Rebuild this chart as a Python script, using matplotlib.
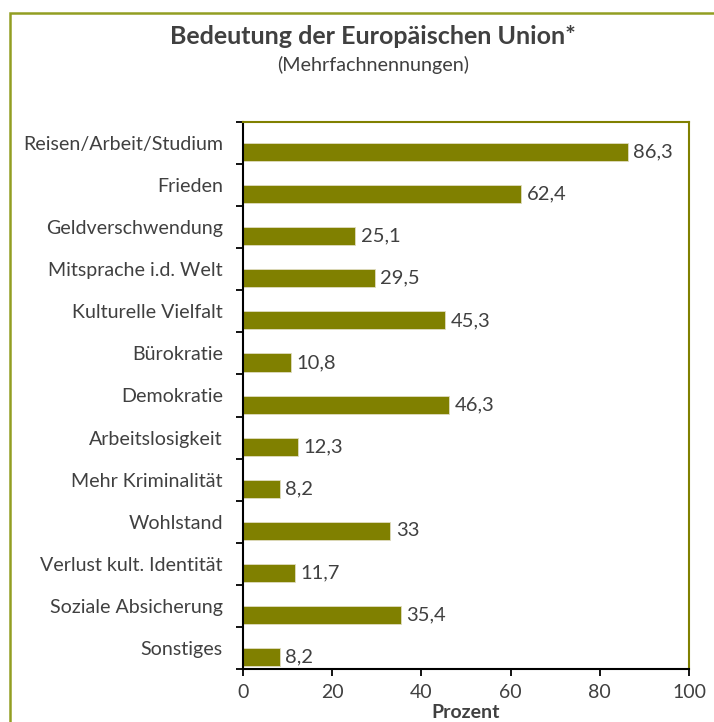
import matplotlib
matplotlib.use("Agg")
import matplotlib.pyplot as plt
from matplotlib.patches import Rectangle
import numpy as np

categories = ["Reisen/Arbeit/Studium", "Frieden", "Geldverschwendung",
              "Mitsprache i.d. Welt", "Kulturelle Vielfalt", "Bürokratie",
              "Demokratie", "Arbeitslosigkeit", "Mehr Kriminalität",
              "Wohlstand", "Verlust kult. Identität", "Soziale Absicherung",
              "Sonstiges"]
values = [86.3, 62.4, 25.1, 29.5, 45.3, 10.8, 46.3, 12.3, 8.2, 33, 11.7, 35.4, 8.2]
value_labels = ["86,3", "62,4", "25,1", "29,5", "45,3", "10,8", "46,3",
                "12,3", "8,2", "33", "11,7", "35,4", "8,2"]
x_ticks = [0, 20, 40, 60, 80, 100]

plt.rcParams['font.family'] = ['Lato', 'DejaVu Sans']
TXT = '#404040'
OLIVE = '#808000'

W, H = 714, 722
fig = plt.figure(figsize=(W / 100, H / 100), dpi=100)
fig.patch.set_facecolor('white')

# outer border
fig.patches.append(Rectangle((10 / W, -0.2), 1.5, 1 - 13.5 / H + 0.2,
                             transform=fig.transFigure, fill=False,
                             edgecolor='#929e22', linewidth=1.8, zorder=0))

ax = fig.add_axes([243 / W, 1 - 669 / H, (689 - 243) / W, (669 - 122) / H])
n = len(categories)
idx = np.arange(n)
bar_centers = idx + 0.715
ax.barh(bar_centers, values, height=0.43, color=OLIVE, edgecolor='#e0dcc0',
        linewidth=0.6, zorder=2)
for yc, v, lab in zip(bar_centers, values, value_labels):
    ax.annotate(lab, (v, yc), xytext=(4, 0), textcoords='offset points',
                va='center', ha='left', fontsize=14.5, color=TXT)

ax.set_ylim(n, 0)
ax.set_xlim(0, 100)
ax.set_yticks(np.arange(n + 1))
ax.set_yticklabels([])
ax.set_yticks(idx + 0.5, minor=True)
ax.set_yticklabels(categories, minor=True, fontsize=14.1, color=TXT)
ax.tick_params(axis='y', which='major', length=5, width=1.3, direction='out', color='black')
ax.tick_params(axis='y', which='minor', length=0, pad=14.5)
ax.set_xticks(x_ticks)
ax.set_xticklabels([str(t) for t in x_ticks], fontsize=14, color=TXT)
ax.tick_params(axis='x', length=5, width=1.3, direction='out', color='black', pad=6)

for s in ['left', 'bottom']:
    ax.spines[s].set_color('black')
    ax.spines[s].set_linewidth(1.5)
for s in ['top', 'right']:
    ax.spines[s].set_color(OLIVE)
    ax.spines[s].set_linewidth(1.5)

fig.text(373 / W, 1 - 36 / H, "Bedeutung der Europäischen Union*", ha='center',
         va='center', fontsize=18, fontweight='bold', color=TXT)
fig.text(373 / W, 1 - 65 / H, "(Mehrfachnennungen)", ha='center', va='center',
         fontsize=14.2, color=TXT)
fig.text(466 / W, 1 - 713 / H, "Prozent", ha='center', va='center',
         fontsize=14, fontweight='bold', color=TXT)

fig.savefig("out.png", dpi=100)
